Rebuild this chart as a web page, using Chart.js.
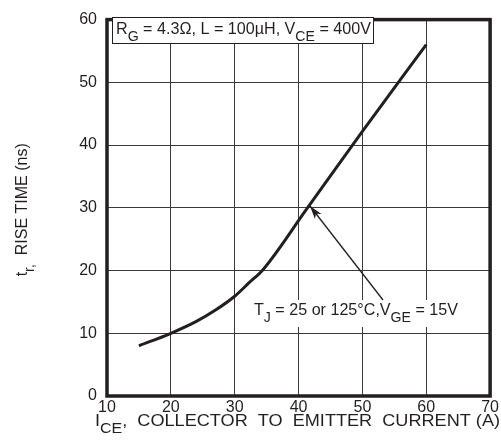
<!DOCTYPE html>
<html>
<head>
<meta charset="utf-8">
<script src="https://cdn.jsdelivr.net/npm/chart.js@4.4.1/dist/chart.umd.min.js"></script>
<style>
  body { margin: 0; background: #fff; }
  #wrap { width: 501px; height: 440px; position: relative; }
</style>
</head>
<body>
<div id="wrap"><canvas id="grafico"></canvas></div>
<script>
// valores
const correnteA = [15, 20, 24, 27, 30, 32.3, 34.4, 41.2, 50, 60];
const tempoSubidaNs = [8, 10, 11.9, 13.7, 15.9, 18.1, 20.1, 29.7, 42.2, 56];
const xMin = 10, xMax = 70, yMin = 0, yMax = 60, passo = 10;

const tinta = '#231f20';
const fonte = 'Liberation Sans, Arial, Helvetica, sans-serif';

// desenha texto com partes em subscrito: [texto, sub?]
function textoSub(ctx, partes, x, y, tam, largura) {
  const w = larguraSub(ctx, partes, tam);
  const k = largura ? largura / w : 1;
  ctx.save();
  ctx.translate(x, y);
  ctx.scale(k, 1);
  let cx = 0;
  partes.forEach(p => {
    const sub = p[1];
    ctx.font = (sub ? tam - 2 : tam) + 'px ' + fonte;
    ctx.fillText(p[0], cx, sub ? 7 : 0);
    cx += ctx.measureText(p[0]).width;
  });
  ctx.restore();
}
function larguraSub(ctx, partes, tam) {
  let w = 0;
  partes.forEach(p => {
    ctx.font = (p[1] ? tam - 2 : tam) + 'px ' + fonte;
    w += ctx.measureText(p[0]).width;
  });
  return w;
}

const extras = {
  id: 'extras',
  afterDraw(chart) {
    const ctx = chart.ctx;
    const a = chart.chartArea;
    ctx.save();

    // moldura grossa
    ctx.strokeStyle = tinta;
    ctx.lineWidth = 3.5;
    ctx.strokeRect(a.left, a.top, a.right - a.left, a.bottom - a.top);

    ctx.textBaseline = 'alphabetic';
    ctx.textAlign = 'left';

    // caixa de condições
    ctx.fillStyle = '#fff';
    ctx.fillRect(112, 17, 261, 26);
    ctx.strokeStyle = tinta;
    ctx.lineWidth = 1;
    ctx.strokeRect(112.5, 17.5, 261, 26);
    ctx.fillStyle = tinta;
    textoSub(ctx, [['R'], ['G', 1], [' = 4.3Ω, L = 100µH, V'], ['CE', 1], [' = 400V']], 116, 34, 16, 255);

    // rótulo da curva
    const rot = [['T'], ['J', 1], [' = 25 or 125°C,V'], ['GE', 1], [' = 15V']];
    ctx.fillStyle = '#fff';
    ctx.fillRect(250, 300, 212, 27);
    ctx.fillStyle = tinta;
    textoSub(ctx, rot, 254, 315, 16, 204);

    // seta
    const tipX = 310, tipY = 206, tailX = 383, tailY = 300;
    ctx.strokeStyle = tinta;
    ctx.lineWidth = 1.3;
    ctx.beginPath();
    ctx.moveTo(tailX, tailY);
    ctx.lineTo(tipX, tipY);
    ctx.stroke();
    const ang = Math.atan2(tailY - tipY, tailX - tipX);
    const len = 14, abre = 0.3;
    ctx.beginPath();
    ctx.moveTo(tipX, tipY);
    ctx.lineTo(tipX + len * Math.cos(ang - abre), tipY + len * Math.sin(ang - abre));
    ctx.lineTo(tipX + len * 0.7 * Math.cos(ang), tipY + len * 0.7 * Math.sin(ang));
    ctx.lineTo(tipX + len * Math.cos(ang + abre), tipY + len * Math.sin(ang + abre));
    ctx.closePath();
    ctx.fill();

    // título eixo x
    textoSub(ctx, [['I'], ['CE', 1], [',  COLLECTOR  TO  EMITTER  CURRENT (A)']], 95, 426, 17, 405);

    // título eixo y (rotacionado)
    const partesY = [['t'], ['r,', 1], ['  RISE TIME (ns)']];
    const wy = larguraSub(ctx, partesY, 16);
    ctx.translate(27, (a.top + a.bottom) / 2 + 2);
    ctx.rotate(-Math.PI / 2);
    textoSub(ctx, partesY, -wy / 2, 0, 16);

    ctx.restore();
  }
};

const ctx = document.getElementById('grafico').getContext('2d');

new Chart(ctx, {
  type: 'line',
  data: {
    datasets: [{
      data: correnteA.map((x, i) => ({ x: x, y: tempoSubidaNs[i] })),
      borderColor: tinta,
      borderWidth: 3,
      pointRadius: 0,
      fill: false,
      cubicInterpolationMode: 'monotone'
    }]
  },
  options: {
    responsive: true,
    maintainAspectRatio: false,
    animation: false,
    layout: { padding: { top: 12, right: 10, left: 0, bottom: 0 } },
    plugins: { legend: { display: false }, tooltip: { enabled: false } },
    scales: {
      x: {
        type: 'linear',
        min: xMin, max: xMax,
        border: { display: false },
        grid: { color: '#3a3a3a', lineWidth: 1, drawTicks: false },
        ticks: { stepSize: passo, color: tinta, padding: 2, maxRotation: 0,
                 font: { size: 16, family: fonte } },
        afterFit(scale) { scale.height = 44; }
      },
      y: {
        min: yMin, max: yMax,
        border: { display: false },
        grid: { color: '#3a3a3a', lineWidth: 1, drawTicks: false },
        ticks: { stepSize: passo, color: tinta, padding: 10,
                 font: { size: 16, family: fonte } },
        afterFit(scale) { scale.width = 107; }
      }
    }
  },
  plugins: [extras]
});
</script>
</body>
</html>
